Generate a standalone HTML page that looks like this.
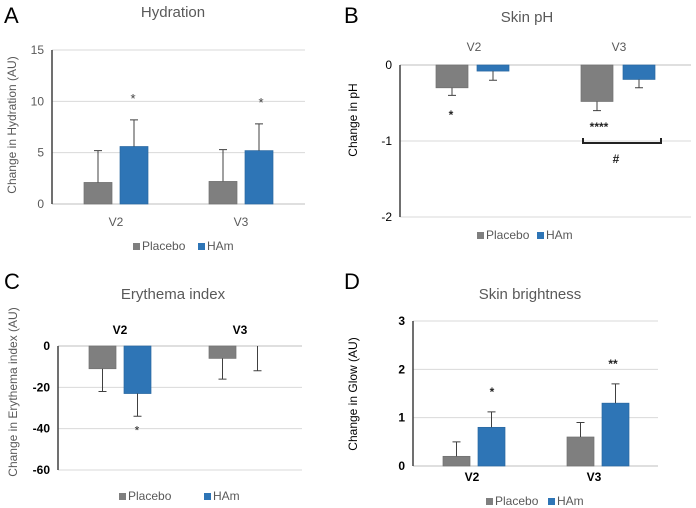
<!DOCTYPE html>
<html><head><meta charset="utf-8">
<style>
html,body{margin:0;padding:0;background:#fff;}
svg{display:block;font-family:"Liberation Sans",sans-serif;}
</style></head>
<body>
<svg id="fig" width="696" height="508" viewBox="0 0 696 508"></svg>
<script>
// ---- data ----
const categories = ["V2","V3"];
const hydPlacebo = [2.1, 2.2];
const hydPlaceboErr = [5.2, 5.3];
const hydHAm = [5.6, 5.2];
const hydHAmErr = [8.2, 7.8];
const hydTicks = [0,5,10,15];
const hydStars = ["*","*"];

const phPlacebo = [-0.3, -0.48];
const phPlaceboErr = [-0.4, -0.6];
const phHAm = [-0.08, -0.19];
const phHAmErr = [-0.2, -0.3];
const phTicks = [0,-1,-2];

const eryPlacebo = [-11, -6];
const eryPlaceboErr = [-22, -16];
const eryHAm = [-23, 0];
const eryHAmErr = [-34, -12];
const eryTicks = [0,-20,-40,-60];

const glowPlacebo = [0.2, 0.6];
const glowPlaceboErr = [0.5, 0.9];
const glowHAm = [0.8, 1.3];
const glowHAmErr = [1.12, 1.7];
const glowTicks = [0,1,2,3];
const glowStars = ["*","**"];

const GRAY="#7f7f7f", BLUE="#2e75b6", TXT="#595959";
const svg=document.getElementById('fig');
const NS="http://www.w3.org/2000/svg";
function mk(tag,attrs,parent,text){
  const e=document.createElementNS(NS,tag);
  for(const k in attrs)e.setAttribute(k,attrs[k]);
  if(text!==undefined)e.textContent=text;
  (parent||svg).appendChild(e);return e;
}

function panel(p){
  const g=mk('g',{});
  
  
  const y=v=>p.y0+(v-p.vmin)/(p.vmax-p.vmin)*(p.y1-p.y0);
  p.ticks.forEach(t=>{
    const gl=mk('line',{x1:p.ax,x2:p.gr,y1:y(t),y2:y(t),stroke:'#d9d9d9','stroke-width':1},g);
    
    
    const tl=mk('text',{x:p.ax-8,y:y(t)+4,'text-anchor':'end','font-size':p.tickSize||12,fill:p.tickColor||TXT,'font-weight':p.tickBold?'bold':'normal'},g,String(t));
    
    
  });
  const zl=mk('line',{x1:p.ax,x2:p.gr,y1:y(0),y2:y(0),stroke:'#bfbfbf','stroke-width':1},g);
  
  
  const ya=mk('line',{x1:p.ax,x2:p.ax,y1:y(p.vmax),y2:y(p.vmin),stroke:'#404040','stroke-width':1.5},g);
  
  
  const series=[[p.pl,p.plE,GRAY,p.plX],[p.ha,p.haE,BLUE,p.haX]];
  series.forEach((s,si)=>{
    categories.forEach((c,i)=>{
      const v=s[0][i], x=s[3][i], w=p.bw;
      const top=Math.min(y(0),y(v)), h=Math.abs(y(v)-y(0));
      if(h>0.5){
        const r=mk('rect',{x:x,y:top,width:w,height:h,fill:s[2],stroke:si?'#2a68a0':'#707070','stroke-width':0.7},g);
        
        
      }
      const cx=x+w/2, ye=y(s[1][i]);
      const el=mk('path',{d:`M${cx},${y(v)}V${ye}M${cx-4},${ye}H${cx+4}`,stroke:'#404040','stroke-width':1,fill:'none'},g);
      
      
    });
  });
  categories.forEach((c,i)=>{
    const t=mk('text',{x:p.catX[i],y:p.catY,'text-anchor':'middle','font-size':12,fill:p.catColor||TXT,'font-weight':p.catBold?'bold':'normal'},g,c);
    
    
  });
  const ti=mk('text',{x:p.tx,y:p.ty,'text-anchor':'middle','font-size':15,fill:TXT},g,p.title);
  
  
  const le=mk('text',{x:p.lx,y:p.ly,'font-size':22,fill:'#000'},g,p.letter);
  
  
  const yt=mk('text',{x:0,y:0,transform:`translate(${p.ytx},${p.yty}) rotate(-90)`,'text-anchor':'middle','font-size':p.ytSize||12,fill:p.ytColor||TXT,'font-weight':p.ytBold?'bold':'normal'},g,p.ytitle);
  
  
  [[GRAY,'Placebo',p.legX[0]],[BLUE,'HAm',p.legX[1]]].forEach(([col,lab,lx])=>{
    const sq=mk('rect',{x:lx,y:p.legY-7,width:7,height:7,fill:col},g);
    
    
    const lt=mk('text',{x:lx+9,y:p.legY,'font-size':12,fill:TXT},g,lab);
    
    
  });
  return {g,y};
}

// A
const A=panel({id:'hydration',ax:52,gr:305,y0:204,y1:50,vmin:0,vmax:15,ticks:hydTicks,
  pl:hydPlacebo,plE:hydPlaceboErr,ha:hydHAm,haE:hydHAmErr,plX:[84,209],haX:[120,245],bw:28,
  catX:[116,241],catY:226,title:'Hydration',tx:173,ty:17,letter:'A',lx:4,ly:23,
  ytitle:'Change in Hydration  (AU)',ytx:16,yty:125,legX:[133,198],legY:250});
hydStars.forEach((s,i)=>{
  const t=mk('text',{x:[133,261][i],y:A.y(hydHAmErr[i])-17,'text-anchor':'middle','font-size':13,fill:'#404040'},A.g,s);
  
  
});

// B
const B=panel({id:'skin-ph',ax:400,gr:691,y0:65,y1:217,vmin:0,vmax:-2,ticks:phTicks,
  pl:phPlacebo,plE:phPlaceboErr,ha:phHAm,haE:phHAmErr,plX:[436,581],haX:[477,623],bw:32,
  catX:[474,619],catY:51,title:'Skin pH',tx:527,ty:22,letter:'B',lx:344,ly:23,
  ytitle:'Change in pH',ytx:357,yty:120,ytColor:'#000',ytBold:false,ytSize:12,tickColor:'#000',
  legX:[477,537],legY:239});
[['*',451,119],['****',599,131],['#',616,163]].forEach(([s,x,yy])=>{
  const t=mk('text',{x:x,y:yy,'text-anchor':'middle','font-size':12,fill:'#222','font-weight':'bold'},B.g,s);
  
  
});
const br=mk('path',{d:'M583,138V143H661V138',stroke:'#222','stroke-width':2,fill:'none'},B.g);



// C
const C=panel({id:'erythema',ax:58,gr:302,y0:346,y1:470,vmin:0,vmax:-60,ticks:eryTicks,
  pl:eryPlacebo,plE:eryPlaceboErr,ha:eryHAm,haE:eryHAmErr,plX:[89,209],haX:[124,244],bw:27,
  catX:[120,240],catY:334,catBold:true,catColor:'#000',title:'Erythema index',tx:173,ty:299,letter:'C',lx:4,ly:289,
  ytitle:'Change in Erythema index (AU)',ytx:17,yty:392,tickColor:'#000',tickBold:true,
  legX:[119,204],legY:500});
{const t=mk('text',{x:137,y:C.y(eryHAmErr[0])+18,'text-anchor':'middle','font-size':12,fill:'#222'},C.g,'*');

}

// D
const D=panel({id:'skin-brightness',ax:413,gr:658,y0:466,y1:321,vmin:0,vmax:3,ticks:glowTicks,
  pl:glowPlacebo,plE:glowPlaceboErr,ha:glowHAm,haE:glowHAmErr,plX:[443,567],haX:[478,602],bw:27,
  catX:[472,594],catY:481,catBold:true,catColor:'#000',title:'Skin brightness',tx:530,ty:299,letter:'D',lx:344,ly:289,
  ytitle:'Change in Glow (AU)',ytx:357,yty:394,ytColor:'#000',tickColor:'#000',tickBold:true,
  legX:[486,548],legY:505});
glowStars.forEach((s,i)=>{
  const t=mk('text',{x:[492,613][i],y:D.y(glowHAmErr[i])-16,'text-anchor':'middle','font-size':12,fill:'#222','font-weight':'bold'},D.g,s);
  
  
});
</script>
</body></html>
